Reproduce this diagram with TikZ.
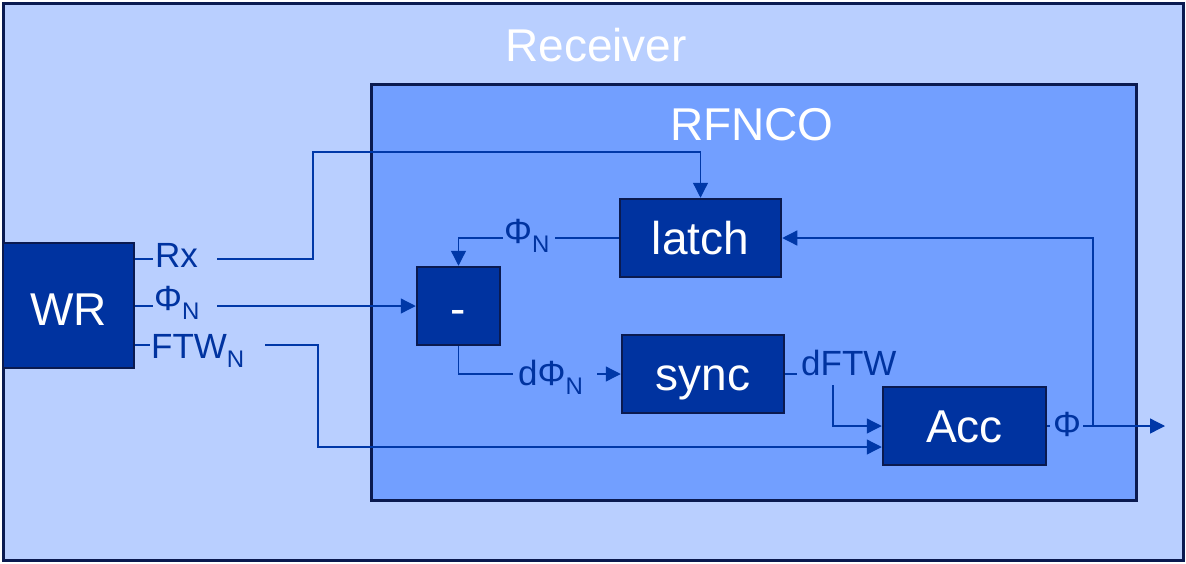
\documentclass[tikz,border=0pt]{standalone}
\usepackage{fontspec}
\setmainfont{Liberation Sans}
\usetikzlibrary{arrows.meta}
\definecolor{outerfill}{HTML}{B9CFFF}
\definecolor{innerfill}{HTML}{729FFF}
\definecolor{boxfill}{HTML}{0033A0}
\definecolor{framec}{HTML}{0A1A50}
\definecolor{wirec}{HTML}{0038A8}
\newcommand{\subN}{\raisebox{-9pt}{\fontsize{24}{24}\selectfont N}}
\begin{document}
\begin{tikzpicture}[x=1pt,y=-1pt,
  container/.style={draw=framec, line width=3pt, inner sep=0pt},
  blk/.style={draw=framec, line width=2.5pt, fill=boxfill, text=white, inner sep=0pt,
    text height=36pt, text depth=4pt, font=\fontsize{46}{46}\selectfont},
  lbl/.style={anchor=base west, inner sep=0pt, text=boxfill, font=\fontsize{35}{35}\selectfont},
  title/.style={text=white, inner sep=0pt, font=\fontsize{46}{46}\selectfont},
  wire/.style={draw=wirec, line width=1.3pt},
  tip/.style={wire, -{Triangle[length=15pt,width=15pt]}}]
\useasboundingbox (0,0) rectangle (1186,563);
% containers
\node[container, fill=outerfill, minimum width=1180pt, minimum height=557pt] (receiver) at (593,281.5) {};
\node[container, fill=innerfill, minimum width=765pt, minimum height=416pt] (rfnco) at (753.5,292) {};
\node[title] (rtitle) at (596,45) {Receiver};
\node[title] (ntitle) at (752,125) {RFNCO};
% blocks
\node[blk, text height=39pt, text depth=0pt, minimum width=131pt, minimum height=125pt] (WR) at (68.5,305.5) {WR};
\node[blk, minimum width=83pt, minimum height=78pt] (minus) at (458.5,306) {\raisebox{-2pt}{-}};
\node[blk, minimum width=161pt, minimum height=78pt] (latch) at (700.5,238) {latch};
\node[blk, minimum width=162pt, minimum height=78pt] (sync) at (703,374) {sync};
\node[blk, minimum width=163pt, minimum height=78pt] (Acc) at (964.5,426) {Acc};
% labels
\node[lbl] (lrx) at (155,267) {Rx};
\node[lbl] (lphi) at (154,310) {Φ\subN};
\node[lbl] (lftw) at (151,358) {FTW\subN};
\node[lbl] (lphil) at (504,243) {Φ\subN};
\node[lbl] (ldphi) at (518,385) {dΦ\subN};
\node[lbl] (ldftw) at (801,375) {dFTW};
\node[lbl] (lphio) at (1053,436) {Φ};
% waypoints
\coordinate (rxa) at (153,259);
\coordinate (rxb) at (217,259);
\coordinate (rxc) at (313,152);
\coordinate (pha) at (153,306);
\coordinate (phb) at (217,306);
\coordinate (fta) at (150,345);
\coordinate (ftb) at (265,345);
\coordinate (ftc) at (318,447);
\coordinate (laa) at (555,238);
\coordinate (lab) at (503,238);
\coordinate (mia) at (513,374);
\coordinate (mib) at (597,374);
\coordinate (sya) at (797,374);
\coordinate (syb) at (833,385);
\coordinate (aca) at (1050,426);
\coordinate (acb) at (1083,426);
\coordinate (acc) at (1093,426);
\coordinate (out) at (1165,426);
% connectors
\draw[wire] (WR.east |- rxa) -- (rxa);
\draw[tip] (rxb) -| (rxc) -| (latch.north);
\draw[wire] (WR.east |- pha) -- (pha);
\draw[tip] (phb) -- (phb -| minus.west);
\draw[wire] (WR.east |- fta) -- (fta);
\draw[tip] (ftb) -| (ftc) -- (ftc -| Acc.west);
\draw[wire] (latch.west) -- (laa);
\draw[tip] (lab) -| (minus.north);
\draw[wire] (minus.south) |- (mia);
\draw[tip] (mib) -- (sync.west);
\draw[wire] (sync.east) -- (sya);
\draw[tip] (syb) |- (Acc.west);
\draw[wire] (Acc.east) -- (aca);
\draw[tip] (acb) -- (out);
\draw[tip] (acc) |- (latch.east);
\end{tikzpicture}
\end{document}
